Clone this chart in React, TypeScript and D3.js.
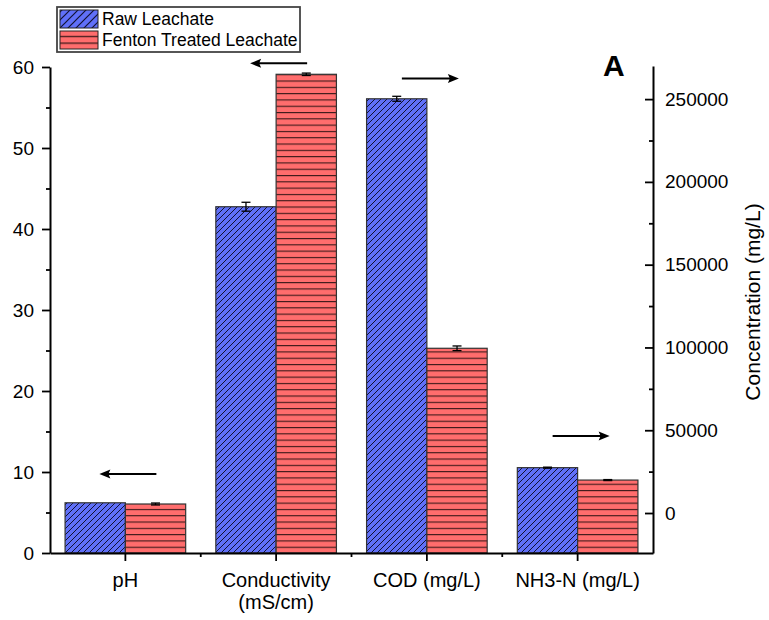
import React, { useRef, useEffect } from 'react';
import * as d3 from 'd3';

// categories and which y axis each one is read against
const categories = ['pH', 'Conductivity', 'COD (mg/L)', 'NH3-N (mg/L)'];
const categorySub = ['', '(mS/cm)', '', ''];
const axisSide = ['left', 'left', 'right', 'right'];

const rawValues = [6.2, 42.75, 250200, 27400];
const rawErrors = [0, 0.55, 1500, 300];
const fentonValues = [6.05, 59.1, 99500, 19900];
const fentonErrors = [0.12, 0.15, 1400, 300];

const seriesNames = ['Raw Leachate', 'Fenton Treated Leachate'];

const leftTicks = [0, 10, 20, 30, 40, 50, 60];
const leftMinor = [5, 15, 25, 35, 45, 55];
const rightTicks = [0, 50000, 100000, 150000, 200000, 250000];
const rightMinor = [25000, 75000, 125000, 175000, 225000];

// arrows pointing to the axis a group belongs to
const arrowValues = [9.75, 60.45, 262500, 46500];
const arrowDirs = ['left', 'left', 'right', 'right'];

const FONT = 'Liberation Sans, Arial, sans-serif';

function App() {
  const svgRef = useRef<SVGSVGElement>(null);

  useEffect(() => {
    const svg = d3.select(svgRef.current);
    svg.selectAll('*').remove();

    const left = 50;
    const right = 653;
    const bottom = 553;

    const x = d3.scaleBand()
      .domain(categories)
      .range([left, right])
      .paddingInner(0.2)
      .paddingOuter(0.1);

    const xSub = d3.scaleBand()
      .domain(['raw', 'fenton'])
      .range([0, x.bandwidth()]);

    const yLeft = d3.scaleLinear().domain([0, 60]).range([bottom, 67]);
    const yRight = d3.scaleLinear().domain([-24150, 270000]).range([bottom, 66]);
    const yFor = (i: number) => (axisSide[i] === 'left' ? yLeft : yRight);

    // patterns
    const defs = svg.append('defs');
    const makeDiag = (id: string, s: number, sw: number) => {
      const p = defs.append('pattern')
        .attr('id', id)
        .attr('patternUnits', 'userSpaceOnUse')
        .attr('width', s)
        .attr('height', s);
      p.append('rect').attr('width', s).attr('height', s).attr('fill', '#6070f8');
      p.append('path')
        .attr('d', `M${-s / 4},${s / 4} L${s / 4},${-s / 4} M0,${s} L${s},0 M${s * 0.75},${s * 1.25} L${s * 1.25},${s * 0.75}`)
        .attr('stroke', '#111133')
        .attr('stroke-width', sw);
    };
    const makeHoriz = (id: string, s: number, y0: number, sw: number) => {
      const p = defs.append('pattern')
        .attr('id', id)
        .attr('patternUnits', 'userSpaceOnUse')
        .attr('y', y0)
        .attr('width', 10)
        .attr('height', s);
      p.append('rect').attr('width', 10).attr('height', s).attr('fill', '#ff6d6d');
      p.append('line')
        .attr('x1', 0).attr('x2', 10)
        .attr('y1', 0.5).attr('y2', 0.5)
        .attr('stroke', '#3a1818')
        .attr('stroke-width', sw);
    };
    makeDiag('hatchRaw', 6, 1);
    makeHoriz('hatchFenton', 6.3, bottom, 1.2);
    makeDiag('legRaw', 8, 1.2);
    makeHoriz('legFenton', 6.7, 35.8, 1.5);

    // bars
    const bars = svg.append('g');
    categories.forEach((c, i) => {
      const y = yFor(i);
      const items = [
        { key: 'raw', v: rawValues[i], e: rawErrors[i], fill: 'url(#hatchRaw)' },
        { key: 'fenton', v: fentonValues[i], e: fentonErrors[i], fill: 'url(#hatchFenton)' },
      ];
      items.forEach(d => {
        const bx = (x(c) as number) + (xSub(d.key) as number);
        bars.append('rect')
          .attr('x', bx)
          .attr('y', y(d.v))
          .attr('width', xSub.bandwidth())
          .attr('height', bottom - y(d.v))
          .attr('fill', d.fill)
          .attr('stroke', '#333')
          .attr('stroke-width', 1.2);
        if (!d.e) return;
        const cx = bx + xSub.bandwidth() / 2;
        const eb = bars.append('g').attr('stroke', '#000').attr('stroke-width', 1.3);
        eb.append('line').attr('x1', cx).attr('x2', cx).attr('y1', y(d.v - d.e)).attr('y2', y(d.v + d.e));
        eb.append('line').attr('x1', cx - 4.5).attr('x2', cx + 4.5).attr('y1', y(d.v + d.e)).attr('y2', y(d.v + d.e));
        eb.append('line').attr('x1', cx - 4.5).attr('x2', cx + 4.5).attr('y1', y(d.v - d.e)).attr('y2', y(d.v - d.e));
      });
    });

    // left axis
    const gl = svg.append('g').attr('transform', `translate(${left},0)`)
      .call(d3.axisLeft(yLeft).tickValues(leftTicks).tickSize(8).tickSizeOuter(0).tickPadding(8));
    svg.append('g').attr('transform', `translate(${left},0)`)
      .call(d3.axisLeft(yLeft).tickValues(leftMinor).tickSize(4).tickFormat(() => ''))
      .call(g => g.select('.domain').remove());

    // right axis, ticks inward
    const gr = svg.append('g').attr('transform', `translate(${right},0)`)
      .call(d3.axisRight(yRight).tickValues(rightTicks).tickSize(-8).tickSizeOuter(0).tickPadding(12)
        .tickFormat(d => String(d)));
    svg.append('g').attr('transform', `translate(${right},0)`)
      .call(d3.axisRight(yRight).tickValues(rightMinor).tickSize(-4).tickFormat(() => ''))
      .call(g => g.select('.domain').remove());

    // bottom axis
    const gb = svg.append('g').attr('transform', `translate(0,${bottom})`)
      .call(d3.axisBottom(x).tickSize(8).tickSizeOuter(0).tickFormat(() => ''));
    const centers = categories.map(c => (x(c) as number) + x.bandwidth() / 2);
    const mids = centers.slice(1).map((cx, i) => (cx + centers[i]) / 2);
    svg.append('g').selectAll('line').data(mids).join('line')
      .attr('x1', d => d).attr('x2', d => d)
      .attr('y1', bottom).attr('y2', bottom + 4)
      .attr('stroke', '#000').attr('stroke-width', 1.8);

    [gl, gr, gb].forEach(g => {
      g.select('.domain').attr('stroke-width', 2);
      g.selectAll('.tick text').attr('font-size', 19).attr('font-family', FONT).attr('fill', '#000');
    });
    svg.selectAll('.tick line').attr('stroke-width', 1.8);

    // category labels
    const labels = svg.append('g')
      .attr('font-family', FONT)
      .attr('font-size', 20)
      .attr('text-anchor', 'middle');
    categories.forEach((c, i) => {
      const t = labels.append('text').attr('x', centers[i]).attr('y', 587);
      t.append('tspan').text(c);
      if (categorySub[i]) {
        t.append('tspan').attr('x', centers[i]).attr('dy', 22).text(categorySub[i]);
      }
    });

    // right axis title
    svg.append('text')
      .attr('transform', `translate(760,302) rotate(-90)`)
      .attr('text-anchor', 'middle')
      .attr('font-family', FONT)
      .attr('font-size', 21)
      .text('Concentration (mg/L)');

    // panel letter
    svg.append('text')
      .attr('x', 603)
      .attr('y', 76)
      .attr('font-family', FONT)
      .attr('font-weight', 'bold')
      .attr('font-size', 30)
      .text('A');

    // arrows
    const arrows = svg.append('g');
    categories.forEach((c, i) => {
      const y = yFor(i)(arrowValues[i]);
      const cx = centers[i];
      const dir = arrowDirs[i];
      const tail = dir === 'left' ? cx + 31 : cx - 25;
      const tip = dir === 'left' ? cx - 26 : cx + 32;
      const s = dir === 'left' ? 1 : -1;
      arrows.append('line')
        .attr('x1', tail).attr('x2', tip + s * 6)
        .attr('y1', y).attr('y2', y)
        .attr('stroke', '#000').attr('stroke-width', 2);
      arrows.append('path')
        .attr('d', `M${tip},${y} L${tip + s * 11},${y - 4.5} L${tip + s * 9},${y} L${tip + s * 11},${y + 4.5} Z`)
        .attr('fill', '#000');
    });

    // legend
    const lg = svg.append('g');
    lg.append('rect')
      .attr('x', 57).attr('y', 7).attr('width', 243).attr('height', 45)
      .attr('fill', '#fff').attr('stroke', '#444').attr('stroke-width', 1.8);
    const legFills = ['url(#legRaw)', 'url(#legFenton)'];
    seriesNames.forEach((n, i) => {
      lg.append('rect')
        .attr('x', 60).attr('y', 10 + i * 21).attr('width', 38).attr('height', 18)
        .attr('fill', legFills[i]).attr('stroke', '#222').attr('stroke-width', 1);
      lg.append('text')
        .attr('x', 102).attr('y', 25 + i * 20.5)
        .attr('font-family', FONT).attr('font-size', 17.5)
        .text(n);
    });
  }, []);

  return (
    <svg
      ref={svgRef}
      width={769}
      height={620}
      style={{ position: 'absolute', left: 0, top: 0, background: '#fff' }}
    ></svg>
  );
}

export default App;
